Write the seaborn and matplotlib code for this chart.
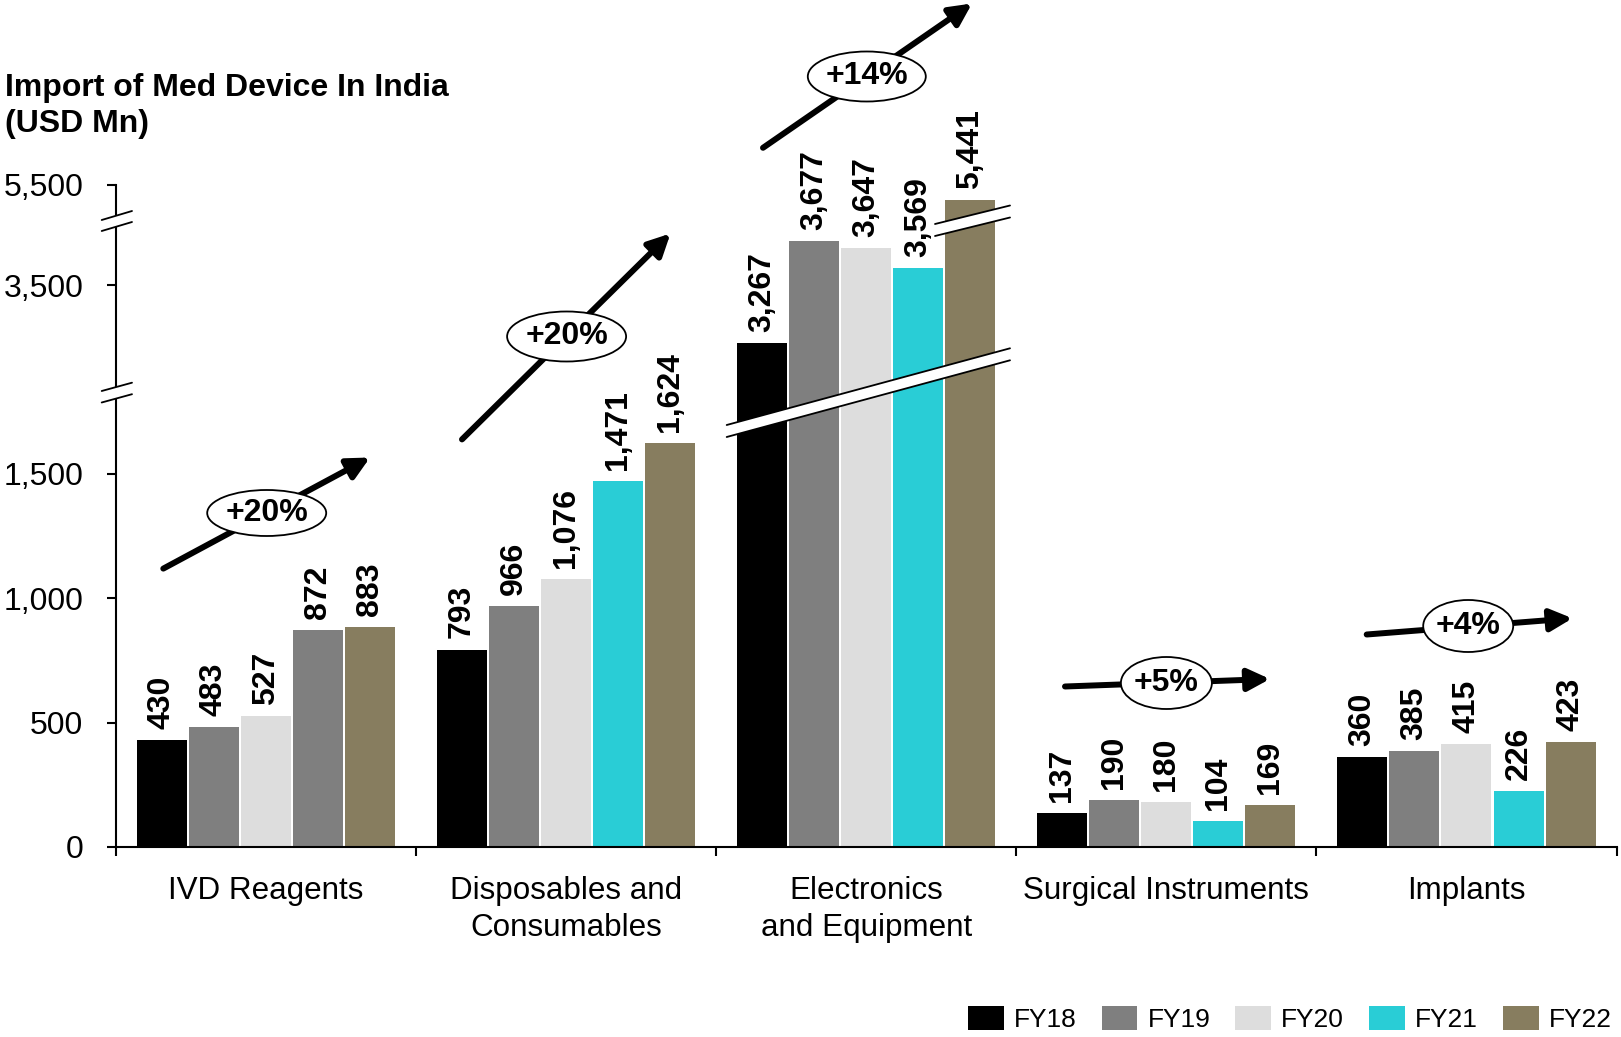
import numpy as np
import pandas as pd
import matplotlib
matplotlib.use("Agg")
import matplotlib.pyplot as plt
import seaborn as sns
from matplotlib.patches import Ellipse, Polygon
from matplotlib.lines import Line2D

# ---------------- data ----------------
categories = ["IVD Reagents", "Disposables and\nConsumables", "Electronics\nand Equipment",
              "Surgical Instruments", "Implants"]
years = ["FY18", "FY19", "FY20", "FY21", "FY22"]
fy18 = [430, 793, 3267, 137, 360]
fy19 = [483, 966, 3677, 190, 385]
fy20 = [527, 1076, 3647, 180, 415]
fy21 = [872, 1471, 3569, 104, 226]
fy22 = [883, 1624, 5441, 169, 423]
cagr_labels = ["+20%", "+20%", "+14%", "+5%", "+4%"]
ytick_values = [0, 500, 1000, 1500, 3500, 5500]
title_text = "Import of Med Device In India\n(USD Mn)"

palette = {"FY18": "#000000", "FY19": "#7F7F7F", "FY20": "#DDDDDD",
           "FY21": "#29CDD6", "FY22": "#877D5F"}

series = [fy18, fy19, fy20, fy21, fy22]
df = pd.DataFrame({
    "category": [c for _ in years for c in categories],
    "year": [y for y in years for _ in categories],
    "value": [v for s in series for v in s],
})

# ---------------- style ----------------
sns.set_style("white")
plt.rcParams["font.family"] = ["Liberation Sans", "DejaVu Sans"]
plt.rcParams["text.color"] = "black"
plt.rcParams["axes.labelcolor"] = "black"
plt.rcParams["xtick.color"] = "black"
plt.rcParams["ytick.color"] = "black"

W, H = 1621, 1037
fig = plt.figure(figsize=(W / 100, H / 100), dpi=100)
ax = fig.add_axes([116 / W, (H - 847) / H, (1616.5 - 116) / W, (847 - 185) / H])

# broken-axis scale (piecewise linear, compressing the gaps)
v_knots = np.array([-1e4, 1823, 3066, 3757, 5355, 1e5])
d_knots = np.array([-1e4, 1823, 1823.01, 2514, 2514.01, 1e5 - 2841])


def fwd(v):
    return np.interp(v, v_knots, d_knots)


def inv(d):
    return np.interp(d, d_knots, v_knots)


ax.set_yscale("function", functions=(fwd, inv))

sns.barplot(data=df, x="category", y="value", hue="year", hue_order=years,
            order=categories, palette=palette, saturation=1, width=0.8675,
            gap=0.04, linewidth=0, ax=ax)

# IVD FY21 bar is drawn in grey in the original
ax.containers[3][0].set_facecolor("#7F7F7F")

ax.set_ylim(0, 5500)
ax.set_xlim(-0.5, 4.5)
ax.set_xlabel("")
ax.set_ylabel("")

# value labels
for cont, vals in zip(ax.containers, series):
    for bar, v in zip(cont, vals):
        ax.annotate(f"{v:,}", (bar.get_x() + bar.get_width() / 2, v),
                    xytext=(0, 8), textcoords="offset points", rotation=90,
                    ha="center", va="bottom", fontsize=23, fontweight="bold",
                    color="black", zorder=3)

# axes styling
for s in ["top", "right"]:
    ax.spines[s].set_visible(False)
for s in ["left", "bottom"]:
    ax.spines[s].set_linewidth(1.5)
    ax.spines[s].set_color("black")

ax.set_yticks(ytick_values)
ax.set_yticklabels([f"{v:,}" for v in ytick_values])
ax.yaxis.set_minor_locator(matplotlib.ticker.NullLocator())
ax.tick_params(axis="y", which="major", direction="out", length=6.5, width=1.5,
               pad=17, labelsize=23, left=True, color="black", labelcolor="black")

ax.set_xticks(range(len(categories)))
ax.set_xticklabels(categories)
ax.set_xticks(np.arange(-0.5, len(categories), 1.0), minor=True)
ax.tick_params(axis="x", which="major", length=0, pad=21, labelsize=22.6,
               labelcolor="black")
ax.tick_params(axis="x", which="minor", direction="out", length=6.5, width=1.5,
               bottom=True, color="black")
for t in ax.get_xticklabels():
    t.set_linespacing(1.3)

# legend
leg = ax.get_legend()
handles = leg.legend_handles
labels = [t.get_text() for t in leg.get_texts()]
leg.remove()
fig.legend(handles, labels, loc="lower right", bbox_to_anchor=(1612 / W, 5 / H),
           ncol=5, frameon=False, fontsize=19, handlelength=1.36, handleheight=1.02,
           handletextpad=0.38, columnspacing=0.95, borderpad=0, borderaxespad=0)

# title
fig.text(5 / W, 1 - 73 / H, title_text, ha="left", va="top", fontsize=23,
         fontweight="bold", linespacing=1.24, color="black")


# ---------------- decorations ----------------
def F(x, y):
    return (x / W, 1 - y / H)


def band(x0, y0, x1, y1, thick):
    poly = Polygon([F(x0, y0), F(x1, y1), F(x1, y1 + thick), F(x0, y0 + thick)],
                   closed=True, transform=fig.transFigure, facecolor="white",
                   edgecolor="none", zorder=5)
    fig.add_artist(poly)
    for o in (0, thick):
        fig.add_artist(Line2D([x0 / W, x1 / W], [1 - (y0 + o) / H, 1 - (y1 + o) / H],
                              transform=fig.transFigure, color="black", lw=1.3,
                              zorder=6))


# y-axis breaks
band(101.7, 391, 132, 382.7, 11.5)
band(101.7, 220, 132, 211, 11)
# bar breaks (Electronics)
band(726.7, 425, 1010, 348.3, 12)
band(935, 224, 1010, 205.5, 12)

# CAGR arrows with ellipse labels
arrows = [((163.3, 568.6), (370, 457.5)),
          ((462, 439.4), (670.5, 233.5)),
          ((763, 147.8), (972, 3.5)),
          ((1065, 686.5), (1270, 679)),
          ((1366.7, 634.5), (1572.5, 618.3))]
ell = [((266.7, 513), 119, 46), ((566.6, 336.5), 119, 50), ((866.8, 76.5), 118, 50),
       ((1166.4, 683), 91, 52), ((1468.2, 626), 90, 52)]

for (tail, tip), (c, w, h), lab in zip(arrows, ell, cagr_labels):
    ax.annotate("", xy=(tip[0], H - tip[1]), xytext=(tail[0], H - tail[1]),
                xycoords="figure pixels", textcoords="figure pixels",
                arrowprops=dict(arrowstyle="-|>,head_length=0.6,head_width=0.3",
                                mutation_scale=22, lw=4.3, color="black",
                                shrinkA=0, shrinkB=0))
    fig.add_artist(Ellipse(F(*c), w / W, h / H, transform=fig.transFigure,
                           facecolor="white", edgecolor="black", lw=1.3, zorder=7))
    fig.text(c[0] / W, 1 - c[1] / H, lab, ha="center", va="center", fontsize=23,
             fontweight="bold", color="black", zorder=8)

fig.savefig("out.png", dpi=100)
